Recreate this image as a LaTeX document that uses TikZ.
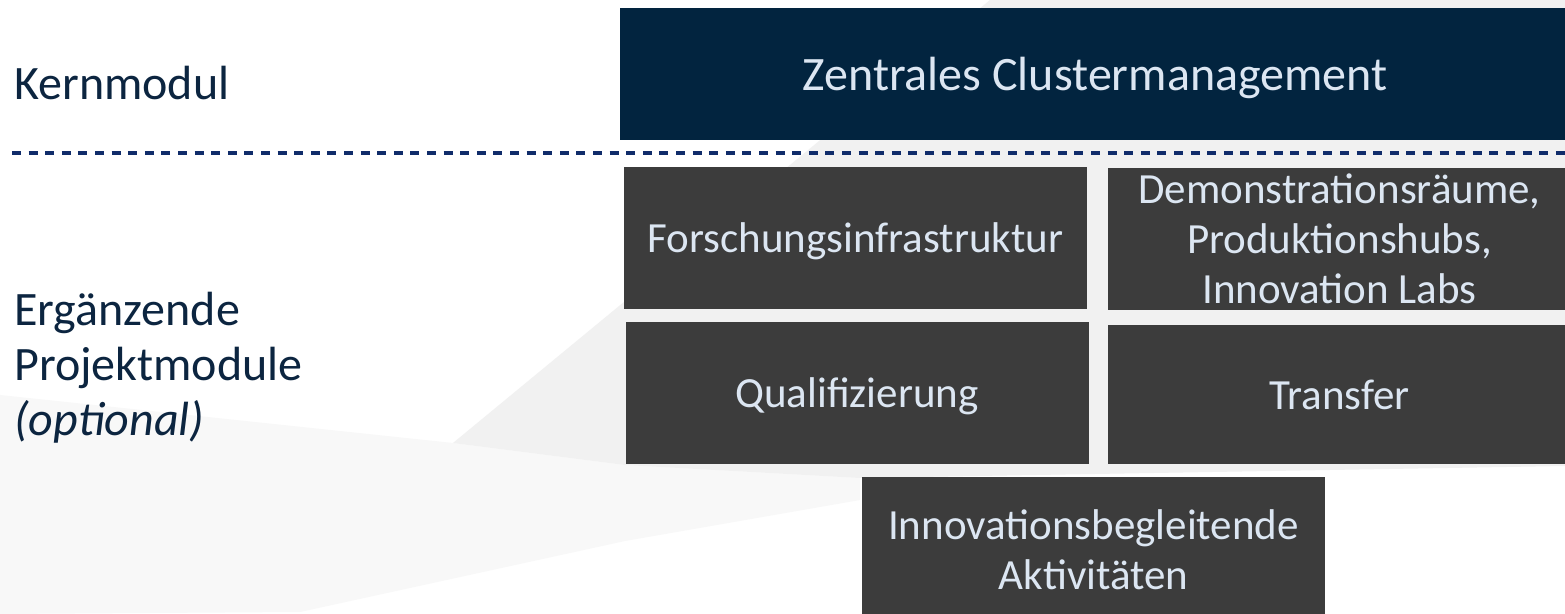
\documentclass[tikz,border=0pt]{standalone}
\usepackage{fontspec}
\setmainfont{Carlito}
\usepackage{xcolor}
\usetikzlibrary{positioning}

\definecolor{navybox}{HTML}{02243F}
\definecolor{modgray}{HTML}{3C3C3C}
\definecolor{modtext}{HTML}{DCE6F2}
\definecolor{labtext}{HTML}{0C2540}
\definecolor{sepblue}{HTML}{102C6A}
\definecolor{swoosh}{HTML}{F1F1F1}
\definecolor{swooshlight}{HTML}{F8F8F8}

\begin{document}
\begin{tikzpicture}[x=0.5pt, y=-0.5pt,
  modbox/.style={fill=modgray,text=modtext,inner sep=0pt,minimum width=231.5pt,minimum height=71pt,align=center,font=\fontsize{21.5}{25}\selectfont},
  lab/.style={text=labtext,inner sep=0pt,align=left,font=\fontsize{24}{27.5}\selectfont},
  sep/.style={sepblue,line width=2pt,dash pattern=on 4.5pt off 3.8pt}]
  \useasboundingbox (0,0) rectangle (1565,614);
  \fill[white] (0,0) rectangle (1565,614);
  % soft swoosh behind the modules
  \fill[swooshlight] (0,395) -- (453,443) -- (625,465) -- (860,478) -- (860,500) -- (625,541) -- (300,612) -- (0,614) -- cycle;
  \fill[swoosh] (453,443) -- (990,0) -- (1565,0) -- (1565,466) -- (1330,470) -- (860,478) -- (625,465) -- cycle;
  % core module
  \node[fill=navybox,text=modtext,inner sep=0pt,minimum width=475pt,minimum height=66pt,text depth=0pt,font=\fontsize{24}{28}\selectfont] (zcm) at (1095,74) {Zentrales Clustermanagement};
  \node[lab,anchor=base west] (kern) at (14,100) {Kernmodul};
  % separator
  \coordinate (sepL) at (12,153);
  \coordinate (sepR) at (1565,153);
  \draw[sep] (sepL) -- (sepR);
  % optional project modules
  \node[lab,anchor=west] (erg) at (14,368) {Ergänzende\\Projektmodule\\\textit{(optional)}};
  \node[modbox,text depth=0pt] (forsch) at (855.5,238) {Forschungsinfrastruktur};
  \node[modbox] (demo) at (1339.5,239) {Demonstrationsräume,\\Produktionshubs,\\Innovation Labs};
  \node[modbox,text depth=0pt] (quali) at (857,393) {Qualifizierung};
  \node[modbox,text depth=0pt,minimum height=69.5pt] (transfer) at (1339.5,394.5) {Transfer};
  \node[modbox,minimum height=72.5pt] (inno) at (1093.5,549.5) {Innovationsbegleitende\\Aktivitäten};
\end{tikzpicture}
\end{document}
